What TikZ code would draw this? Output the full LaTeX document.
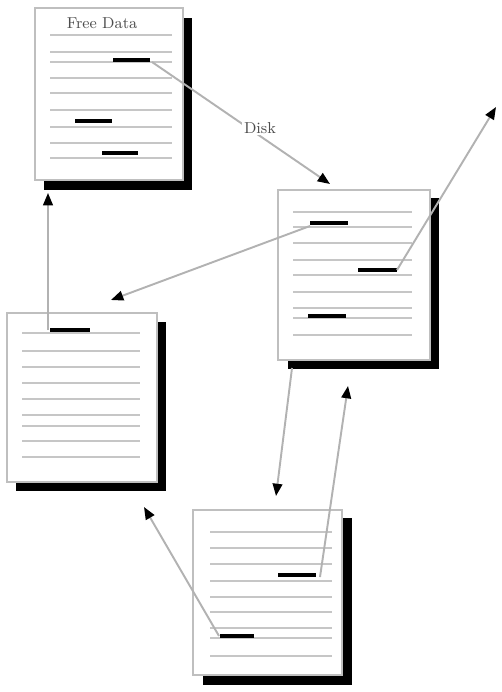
\documentclass[tikz,border=0pt]{standalone}
\usetikzlibrary{arrows.meta}
\begin{document}
\begin{tikzpicture}[x=0.02cm,y=-0.02cm,
  pagebox/.style={draw=gray!50,line width=1.1pt,fill=white},
  shadowbox/.style={fill=black},
  ruleline/.style={draw=gray!45,line width=1.3pt},
  ptrbar/.style={draw=black,line width=2.8pt},
  link/.style={draw=gray!60,line width=1.1pt,-{Triangle[length=7pt,width=5.5pt,color=black]}},
  lbl/.style={font=\fontsize{9}{10}\selectfont,text=gray!60!black,inner sep=1pt}]
\useasboundingbox (0,0) rectangle (501,692);
% ---------- page 1 ----------
\fill[shadowbox] (44,18) rectangle (192,190);
\draw[pagebox] (35,8) rectangle (183,180);
\node[lbl] (title) at (102,23) {Free Data};
\foreach \y in {35,52,62,78,93,110,127,143,158}{\draw[ruleline] (50,\y) -- (172,\y);}
\draw[ptrbar] (113,60) -- (150,60);
\draw[ptrbar] (75,121) -- (112,121);
\draw[ptrbar] (102,153) -- (138,153);
\coordinate (p1ptr) at (152,62);
\coordinate (p1in) at (48,193);
% ---------- page 2 ----------
\fill[shadowbox] (288,198) rectangle (439,369);
\draw[pagebox] (278,190) rectangle (430,360);
\foreach \y in {212,227,243,260,275,292,308,318,335}{\draw[ruleline] (293,\y) -- (412,\y);}
\draw[ptrbar] (310,223) -- (348,223);
\draw[ptrbar] (358,270) -- (397,270);
\draw[ptrbar] (308,316) -- (346,316);
\coordinate (p2in) at (330,184);
\coordinate (p2ptrA) at (310,226);
\coordinate (p2ptrB) at (397,270);
\coordinate (p2out) at (292,368);
\coordinate (p2in2) at (348,386);
\coordinate (away) at (496,107);
% ---------- page 3 ----------
\fill[shadowbox] (16,322) rectangle (166,491);
\draw[pagebox] (7,313) rectangle (157,482);
\foreach \y in {333,351,367,383,399,415,426,441,457}{\draw[ruleline] (22,\y) -- (140,\y);}
\draw[ptrbar] (50,330) -- (90,330);
\coordinate (p3in) at (111,300);
\coordinate (p3ptr) at (48,330);
\coordinate (p3in2) at (144,507);
% ---------- page 4 ----------
\fill[shadowbox] (203,518) rectangle (352,685);
\draw[pagebox] (193,510) rectangle (342,675);
\foreach \y in {532,548,564,581,597,612,628,638,656}{\draw[ruleline] (210,\y) -- (332,\y);}
\draw[ptrbar] (278,575) -- (316,575);
\draw[ptrbar] (220,636) -- (254,636);
\coordinate (p4in) at (276,496);
\coordinate (p4ptrA) at (320,577);
\coordinate (p4ptrB) at (219,636);
% ---------- links ----------
\draw[link] (p1ptr) -- (p2in);
\node[lbl,fill=white] (disk) at (260,128) {Disk};
\draw[link] (p2ptrB) -- (away);
\draw[link] (p2ptrA) -- (p3in);
\draw[link] (p3ptr) -- (p1in);
\draw[link] (p2out) -- (p4in);
\draw[link] (p4ptrA) -- (p2in2);
\draw[link] (p4ptrB) -- (p3in2);
\end{tikzpicture}
\end{document}
